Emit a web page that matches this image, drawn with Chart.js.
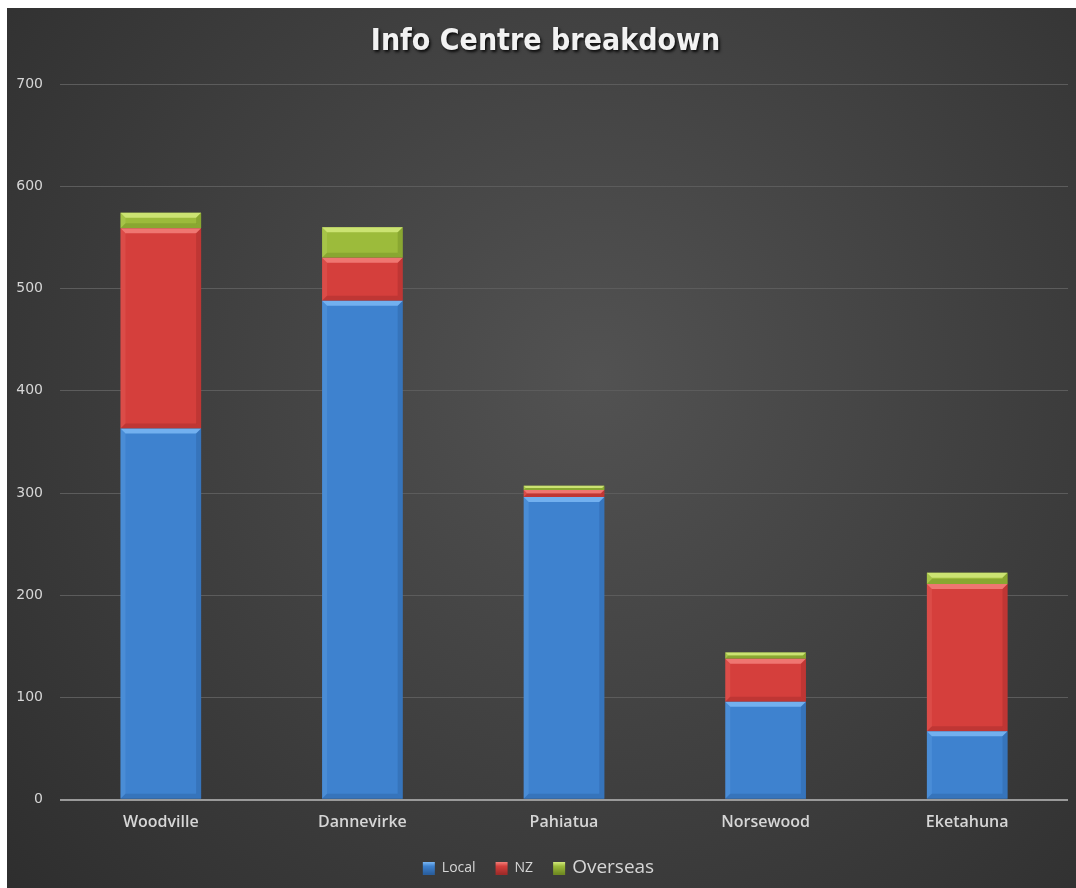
<!DOCTYPE html>
<html>
<head>
<meta charset="utf-8">
<title>Info Centre breakdown</title>
<script src="https://cdn.jsdelivr.net/npm/chart.js@4/dist/chart.umd.min.js"></script>
<style>
	html, body {
		margin: 0;
		padding: 0;
		background: #ffffff;
	}
	.chart-container {
		position: absolute;
		left: 7px;
		top: 8px;
		width: 1069px;
		height: 880px;
	}
</style>
</head>
<body>
<div class="chart-container"><canvas></canvas></div>
<script>
const titleText = "Info Centre breakdown";
const categories = ["Woodville", "Dannevirke", "Pahiatua", "Norsewood", "Eketahuna"];
const seriesNames = ["Local", "NZ", "Overseas"];
const localValues = [363, 488, 296, 96, 67];
const nzValues = [196, 42, 7, 42, 144];
const overseasValues = [15, 30, 4, 6, 11];
const yTickValues = [0, 100, 200, 300, 400, 500, 600, 700];

// fill, highlight (top/left bevel), shade (right/bottom bevel)
const palette = [
	{ fill: "#3e82cf", light: "#7bb8f5", dark: "#2a5f9e" },
	{ fill: "#d53f3c", light: "#f3807a", dark: "#9e2b29" },
	{ fill: "#9cbb3b", light: "#d3ea7c", dark: "#6f8a22" }
];
const legendFontSizes = [14, 14, 19];

// dark radial backdrop behind everything
const backdrop = {
	id: "backdrop",
	beforeDraw(chart) {
		const { ctx, width, height } = chart;
		const g = ctx.createRadialGradient(
			width * 0.55, height * 0.42, 0,
			width * 0.55, height * 0.42, width * 0.75
		);
		g.addColorStop(0, "#525252");
		g.addColorStop(1, "#2d2d2d");
		ctx.save();
		ctx.fillStyle = g;
		ctx.fillRect(0, 0, width, height);
		ctx.restore();
	}
};

// bevel edges on every bar segment
const bevel = {
	id: "bevel",
	afterDatasetsDraw(chart) {
		const { ctx } = chart;
		ctx.save();
		chart.data.datasets.forEach((ds, di) => {
			const colors = palette[di];
			chart.getDatasetMeta(di).data.forEach(bar => {
				const { x, y, base, width } = bar.getProps(["x", "y", "base", "width"], true);
				const l = x - width / 2;
				const r = x + width / 2;
				const t = Math.min(y, base);
				const b = Math.max(y, base);
				const s = Math.min(5, (b - t) / 2);
				if (s <= 0) return;
				const poly = (pts, color, alpha) => {
					ctx.globalAlpha = alpha;
					ctx.fillStyle = color;
					ctx.beginPath();
					ctx.moveTo(pts[0][0], pts[0][1]);
					for (let i = 1; i < pts.length; i++) ctx.lineTo(pts[i][0], pts[i][1]);
					ctx.closePath();
					ctx.fill();
				};
				// top
				poly([[l, t], [r, t], [r - s, t + s], [l + s, t + s]], colors.light, 0.85);
				// left
				poly([[l, t], [l + s, t + s], [l + s, b - s], [l, b]], colors.light, 0.2);
				// right
				poly([[r, t], [r - s, t + s], [r - s, b - s], [r, b]], colors.dark, 0.4);
				// bottom
				poly([[l, b], [l + s, b - s], [r - s, b - s], [r, b]], colors.dark, 0.4);
			});
		});
		ctx.restore();
	}
};

// title with a soft drop shadow
const shadowTitle = {
	id: "shadowTitle",
	afterDraw(chart) {
		const { ctx, width } = chart;
		ctx.save();
		ctx.font = "bold 30px 'DejaVu Sans Condensed', 'Liberation Sans Narrow', sans-serif";
		ctx.textAlign = "center";
		ctx.textBaseline = "middle";
		ctx.shadowColor = "rgba(0,0,0,0.85)";
		ctx.shadowOffsetX = 1.5;
		ctx.shadowOffsetY = 2;
		ctx.shadowBlur = 3;
		ctx.fillStyle = "#f2f2f2";
		ctx.fillText(titleText, width / 2 + 4, 34);
		ctx.restore();
	}
};

// legend along the bottom, one font size per entry
const bottomLegend = {
	id: "bottomLegend",
	afterDraw(chart) {
		const { ctx, width } = chart;
		const box = 12;
		const items = chart.data.datasets.map((ds, i) => {
			ctx.font = `${legendFontSizes[i]}px 'Open Sans', sans-serif`;
			return { label: ds.label, size: legendFontSizes[i], w: ctx.measureText(ds.label).width };
		});
		const total = items.reduce((sum, it) => sum + box + 7 + it.w, 0) + 20 * (items.length - 1);
		let cx = width / 2 - 3 - total / 2;
		const cy = 860;
		ctx.save();
		items.forEach((it, i) => {
			const c = palette[i];
			const g = ctx.createLinearGradient(0, cy - box / 2, 0, cy + box / 2);
			g.addColorStop(0, c.light);
			g.addColorStop(0.35, c.fill);
			g.addColorStop(1, c.dark);
			ctx.fillStyle = g;
			ctx.fillRect(cx, cy - box / 2, box, box + 1);
			cx += box + 7;
			ctx.font = `${it.size}px 'Open Sans', sans-serif`;
			ctx.fillStyle = "#d6d6d6";
			ctx.textBaseline = "middle";
			ctx.textAlign = "left";
			ctx.fillText(it.label, cx, cy);
			cx += it.w + 20;
		});
		ctx.restore();
	}
};

const valueSets = [localValues, nzValues, overseasValues];

new Chart(document.querySelector(".chart-container canvas"), {
	type: "bar",
	data: {
		labels: categories,
		datasets: seriesNames.map((name, i) => ({
			label: name,
			data: valueSets[i],
			backgroundColor: palette[i].fill,
			borderWidth: 0,
			barPercentage: 0.4,
			categoryPercentage: 1
		}))
	},
	options: {
		responsive: true,
		maintainAspectRatio: false,
		animation: false,
		layout: {
			padding: { top: 76, right: 8, bottom: 43, left: 0 }
		},
		scales: {
			x: {
				stacked: true,
				grid: { display: false, drawTicks: false },
				border: { display: false },
				ticks: {
					color: "#d6d6d6",
					padding: 13,
					font: { family: "'Open Sans', sans-serif", size: 16, weight: "600" }
				}
			},
			y: {
				stacked: true,
				min: yTickValues[0],
				max: yTickValues[yTickValues.length - 1],
				afterBuildTicks(scale) {
					scale.ticks = yTickValues.map(v => ({ value: v }));
				},
				afterFit(scale) {
					scale.width = 53;
				},
				border: { display: false },
				grid: {
					drawTicks: false,
					color: ctx => (ctx.tick && ctx.tick.value === 0 ? "#9a9a9a" : "#5c5c5c"),
					lineWidth: ctx => (ctx.tick && ctx.tick.value === 0 ? 2 : 1)
				},
				ticks: {
					color: "#d6d6d6",
					padding: 17,
					font: { family: "'DejaVu Sans', sans-serif", size: 14 }
				}
			}
		},
		plugins: {
			legend: { display: false },
			title: { display: false },
			tooltip: { enabled: false }
		}
	},
	plugins: [backdrop, bevel, shadowTitle, bottomLegend]
});
</script>
</body>
</html>
